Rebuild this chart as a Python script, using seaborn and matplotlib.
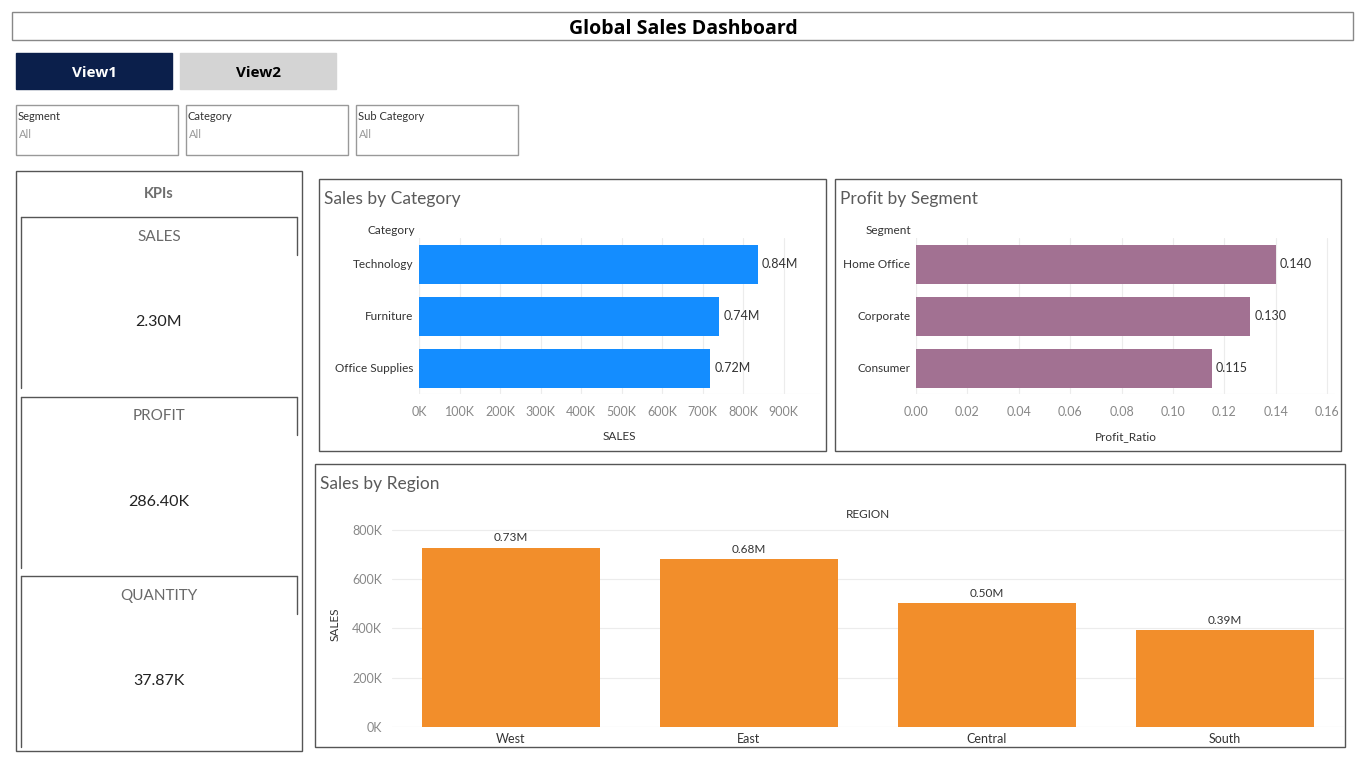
import matplotlib
matplotlib.use("Agg")
import matplotlib.pyplot as plt
import matplotlib.patches as mpatches
from matplotlib.lines import Line2D
from matplotlib.ticker import FuncFormatter
import seaborn as sns
import pandas as pd

# data
categories = ["Technology", "Furniture", "Office Supplies"]
category_sales = [836000, 741000, 719000]

segments = ["Home Office", "Corporate", "Consumer"]
segment_profit_ratio = [0.140, 0.130, 0.115]

regions = ["West", "East", "Central", "South"]
region_sales = [728000, 683000, 502000, 392000]

kpi_names = ["SALES", "PROFIT", "QUANTITY"]
kpi_values = ["2.30M", "286.40K", "37.87K"]

filter_names = ["Segment", "Category", "Sub Category"]

sns.set_theme(style="white")
plt.rcParams["font.family"] = ["Lato", "DejaVu Sans"]

W, H = 1366, 768
fig = plt.figure(figsize=(W / 100, H / 100), dpi=100)
fig.patch.set_facecolor("white")

BORDER = "#555555"


def fx(x):
    return x / W


def fy(y):
    return 1 - y / H


def box(x0, y0, x1, y1, color=BORDER, fill=None, lw=1.0):
    fig.patches.append(mpatches.Rectangle(
        (fx(x0), fy(y1)), (x1 - x0) / W, (y1 - y0) / H,
        transform=fig.transFigure, facecolor=fill if fill else "none",
        edgecolor=color, linewidth=lw, zorder=0))


def line(xs, ys, color=BORDER, lw=1.0):
    fig.lines.append(Line2D([fx(x) for x in xs], [fy(y) for y in ys],
                            transform=fig.transFigure, color=color, lw=lw))


def add_ax(x0, y0, x1, y1):
    return fig.add_axes([fx(x0), fy(y1), (x1 - x0) / W, (y1 - y0) / H])


# header
box(12, 12, 1353, 40, color="#888888")
fig.text(fx(683), fy(29), "Global Sales Dashboard", ha="center", va="center",
         fontsize=14, fontweight="bold", color="black", family=["Open Sans", "DejaVu Sans"])

# view buttons
box(16, 53, 172, 89, color="#0b1f4b", fill="#0b1f4b")
fig.text(fx(94), fy(73), "View1", ha="center", va="center", fontsize=11,
         fontweight="bold", color="white", family=["Open Sans", "DejaVu Sans"])
box(180, 53, 336, 89, color="#d4d4d4", fill="#d4d4d4")
fig.text(fx(258), fy(73), "View2", ha="center", va="center", fontsize=11,
         fontweight="bold", color="black", family=["Open Sans", "DejaVu Sans"])

# filter boxes
for i, name in enumerate(filter_names):
    x0 = 16 + i * 170
    box(x0, 105, x0 + 162, 155, color="#999999")
    fig.text(fx(x0 + 2), fy(117), name, ha="left", va="center", fontsize=8, color="#333333")
    fig.text(fx(x0 + 3), fy(134), "All", ha="left", va="center", fontsize=8, color="#999999")

# KPI column
box(16, 171, 302, 751)
fig.text(fx(159), fy(194), "KPIs", ha="center", va="center", fontsize=10.5,
         fontweight="bold", color="#6e6e6e")
for i, (name, val) in enumerate(zip(kpi_names, kpi_values)):
    top = 217 + i * 179.5
    bot = top + 171
    line([21, 297], [top, top])
    line([21, 21], [top, bot])
    line([297, 297], [top, top + 38])
    fig.text(fx(159), fy(top + 20), name, ha="center", va="center", fontsize=11,
             color="#6a6a6a")
    fig.text(fx(159), fy(top + 105), val, ha="center", va="center", fontsize=11.5,
             color="#222222")

TICK_GREY = "#888888"
LABEL_DARK = "#333333"
TITLE_GREY = "#5a5a5a"


def style_hbar(ax, xlabel, header, header_x):
    ax.set_xlabel(xlabel, fontsize=8.5, color=LABEL_DARK, labelpad=9)
    ax.set_ylabel("")
    ax.tick_params(axis="x", colors=TICK_GREY, labelsize=9, pad=9, length=0)
    ax.tick_params(axis="y", colors=LABEL_DARK, labelsize=8.5, pad=4, length=0)
    ax.grid(axis="x", color="#ececec", lw=0.8)
    ax.set_axisbelow(True)
    for s in ax.spines.values():
        s.set_visible(False)
    ax.axvline(0, color="#dddddd", lw=0.8, zorder=0)
    ax.axhline(ax.get_ylim()[0], color="#ececec", lw=0.8, zorder=0)
    fig.text(fx(header_x), fy(230), header, ha="right", va="center",
             fontsize=8.5, color=LABEL_DARK)


# Sales by Category
box(319, 179, 826, 451)
fig.text(fx(324), fy(199), "Sales by Category", ha="left", va="center",
         fontsize=12.5, color=TITLE_GREY)
ax1 = add_ax(419, 238, 820, 394)
df_cat = pd.DataFrame({"Category": categories, "SALES": category_sales})
sns.barplot(data=df_cat, x="SALES", y="Category", color="#148dff", saturation=1,
            width=0.75, linewidth=0, ax=ax1)
ax1.set_xlim(0, 990000)
ax1.set_xticks(range(0, 1000000, 100000))
ax1.xaxis.set_major_formatter(FuncFormatter(lambda v, p: f"{v / 1000:.0f}K"))
ax1.bar_label(ax1.containers[0], labels=[f"{v / 1e6:.2f}M" for v in category_sales],
              padding=3, fontsize=9, color=LABEL_DARK)
style_hbar(ax1, "SALES", "Category", 415)

# Profit by Segment
box(835, 179, 1341, 451)
fig.text(fx(840), fy(199), "Profit by Segment", ha="left", va="center",
         fontsize=12.5, color=TITLE_GREY)
ax2 = add_ax(916, 238, 1335, 394)
df_seg = pd.DataFrame({"Segment": segments, "Profit_Ratio": segment_profit_ratio})
sns.barplot(data=df_seg, x="Profit_Ratio", y="Segment", color="#a27192", saturation=1,
            width=0.75, linewidth=0, ax=ax2)
ax2.set_xlim(0, 0.163)
ax2.set_xticks([i * 0.02 for i in range(9)])
ax2.xaxis.set_major_formatter(FuncFormatter(lambda v, p: f"{v:.2f}"))
ax2.bar_label(ax2.containers[0], labels=[f"{v:.3f}" for v in segment_profit_ratio],
              padding=3, fontsize=9, color=LABEL_DARK)
style_hbar(ax2, "Profit_Ratio", "Segment", 911)

# Sales by Region
box(315, 464, 1345, 747)
fig.text(fx(320), fy(484), "Sales by Region", ha="left", va="center",
         fontsize=12.5, color=TITLE_GREY)
fig.text(fx(868), fy(514), "REGION", ha="center", va="center", fontsize=8.5,
         color=LABEL_DARK)
ax3 = add_ax(392, 522, 1344, 727)
df_reg = pd.DataFrame({"REGION": regions, "SALES": region_sales})
sns.barplot(data=df_reg, x="REGION", y="SALES", color="#f28e2b", saturation=1,
            width=0.75, linewidth=0, ax=ax3)
ax3.set_ylim(0, 832000)
ax3.set_yticks(range(0, 800001, 200000))
ax3.yaxis.set_major_formatter(FuncFormatter(lambda v, p: f"{v / 1000:.0f}K"))
ax3.bar_label(ax3.containers[0], labels=[f"{v / 1e6:.2f}M" for v in region_sales],
              padding=3, fontsize=8.5, color=LABEL_DARK)
ax3.set_xlabel("")
ax3.set_ylabel("SALES", fontsize=8.5, color=LABEL_DARK, labelpad=8)
ax3.tick_params(axis="y", colors=TICK_GREY, labelsize=9, pad=7, length=0)
ax3.tick_params(axis="x", colors=LABEL_DARK, labelsize=9, pad=4, length=0)
ax3.grid(axis="y", color="#ececec", lw=0.8)
ax3.set_axisbelow(True)
for s in ax3.spines.values():
    s.set_visible(False)
ax3.axhline(0, color="#dddddd", lw=0.8, zorder=0)

fig.savefig("out.png", dpi=100, facecolor="white")
